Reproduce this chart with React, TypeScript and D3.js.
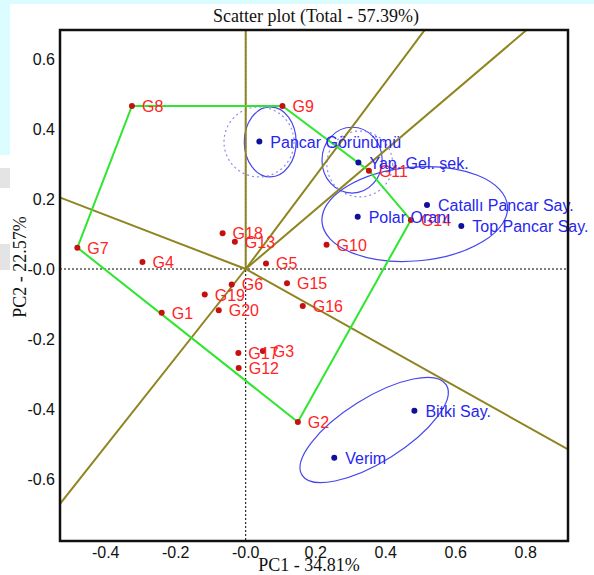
import React from 'react';
import * as d3 from 'd3';

// genotype scores (PC1, PC2)
const genoNames = ['G1', 'G2', 'G3', 'G4', 'G5', 'G6', 'G7', 'G8', 'G9', 'G10',
  'G11', 'G12', 'G13', 'G14', 'G15', 'G16', 'G17', 'G18', 'G19', 'G20'];
const genoPC1 = [-0.24, 0.149, 0.049, -0.295, 0.058, -0.04, -0.481, -0.325, 0.105, 0.231,
  0.352, -0.02, -0.031, 0.472, 0.118, 0.163, -0.021, -0.066, -0.117, -0.077];
const genoPC2 = [-0.125, -0.437, -0.234, 0.02, 0.016, -0.044, 0.061, 0.466, 0.466, 0.069,
  0.281, -0.283, 0.078, 0.14, -0.041, -0.106, -0.24, 0.102, -0.073, -0.118];

// trait scores
const traitNames = ['Pancar Görünümü', 'Yap. Gel. şek.', 'Polar Oranı', 'Catallı Pancar Say.',
  'Top.Pancar Say.', 'Bitki Say.', 'Verim'];
const traitPC1 = [0.039, 0.322, 0.32, 0.518, 0.616, 0.482, 0.253];
const traitPC2 = [0.364, 0.304, 0.149, 0.183, 0.123, -0.405, -0.539];

// polygon vertices (which-won-where), in order
const hull = ['G8', 'G9', 'G11', 'G14', 'G2', 'G7'];

// trait group ellipses: center, radii, rotation (deg)
const ellCX = [0.07, 0.038, 0.304, 0.326, 0.483, 0.367];
const ellCY = [0.363, 0.363, 0.311, 0.3, 0.157, -0.46];
const ellRX = [0.074, 0.1, 0.086, 0.094, 0.266, 0.243];
const ellRY = [0.1, 0.1, 0.094, 0.094, 0.134, 0.091];
const ellRot = [0, 0, 0, 0, -5, -32];
const ellDotted = [false, true, false, true, false, false];

const xTicks = [-0.4, -0.2, 0, 0.2, 0.4, 0.6, 0.8];
const yTicks = [-0.6, -0.4, -0.2, 0, 0.2, 0.4, 0.6];

const W = 594;
const H = 575;
const frame = { left: 60, right: 568, top: 30, bottom: 541 };

const fmt = (v: number) => (v === 0 ? '-0.0' : v.toFixed(1));

const App = () => {
  const k = 350; // px per unit, both axes
  const x0 = 245.7;
  const y0 = 269;
  const x = d3.scaleLinear()
    .domain([(frame.left - x0) / k, (frame.right - x0) / k])
    .range([frame.left, frame.right]);
  const y = d3.scaleLinear()
    .domain([(y0 - frame.bottom) / k, (y0 - frame.top) / k])
    .range([frame.bottom, frame.top]);

  const idx = (n: string) => genoNames.indexOf(n);
  const hullPts: [number, number][] = hull.map(n => [genoPC1[idx(n)], genoPC2[idx(n)]]);
  const hullPath = d3.line()(hullPts.map(p => [x(p[0]), y(p[1])]) as [number, number][]) + 'Z';

  // rays from origin perpendicular to each polygon side
  const rays = hullPts.map((a, i) => {
    const b = hullPts[(i + 1) % hullPts.length];
    const dx = b[0] - a[0];
    const dy = b[1] - a[1];
    const t = -(a[0] * dx + a[1] * dy) / (dx * dx + dy * dy);
    const fx = a[0] + t * dx;
    const fy = a[1] + t * dy;
    const len = Math.hypot(fx, fy);
    return [fx / len * 3, fy / len * 3];
  });

  return (
    <svg width={W} height={H} style={{ position: 'absolute', left: 0, top: 0, background: '#fff' }}>
      <rect x={0} y={0} width={W} height={4} fill="#dcfdff" />
      <rect x={0} y={0} width={10} height={155} fill="#dcfdff" />
      <rect x={0} y={168} width={10} height={20} fill="#e4e4e4" />
      <rect x={0} y={244} width={10} height={26} fill="#e4e4e4" />

      <defs>
        <clipPath id="plotClip">
          <rect x={frame.left} y={frame.top} width={frame.right - frame.left} height={frame.bottom - frame.top} />
        </clipPath>
      </defs>

      <text x={316} y={22} textAnchor="middle" fontFamily="'Liberation Serif', 'Times New Roman', serif" fontSize={18} fill="#111">
        Scatter plot (Total - 57.39%)
      </text>

      <g clipPath="url(#plotClip)">
        {/* zero lines */}
        <line x1={frame.left} x2={frame.right} y1={y(0)} y2={y(0)} stroke="#000" strokeWidth={1} strokeDasharray="2,2" />
        <line x1={x(0)} x2={x(0)} y1={frame.top} y2={frame.bottom} stroke="#000" strokeWidth={1} strokeDasharray="2,2" />

        {/* ellipses */}
        {ellCX.map((cx, i) => (
          <ellipse key={'e' + i}
            cx={x(cx)} cy={y(ellCY[i])}
            rx={x(ellRX[i]) - x(0)} ry={y(0) - y(ellRY[i])}
            transform={`rotate(${ellRot[i]} ${x(cx)} ${y(ellCY[i])})`}
            fill="none"
            stroke={ellDotted[i] ? '#8a8af0' : '#4646ee'}
            strokeWidth={1.2}
            strokeDasharray={ellDotted[i] ? '2,3' : undefined} />
        ))}

        {/* rays */}
        {rays.map((r, i) => (
          <line key={'r' + i} x1={x(0)} y1={y(0)} x2={x(r[0])} y2={y(r[1])} stroke="#8f8420" strokeWidth={2} />
        ))}

        {/* polygon */}
        <path d={hullPath} fill="none" stroke="#2ee62e" strokeWidth={2} />
      </g>

      {/* genotypes */}
      {genoNames.map((n, i) => (
        <g key={n}>
          <circle cx={x(genoPC1[i])} cy={y(genoPC2[i])} r={3} fill="#c41010" />
          <text x={x(genoPC1[i]) + 10} y={y(genoPC2[i]) + 6} fontFamily="Arial, 'Liberation Sans', sans-serif" fontSize={16} fill="#ff2424">{n}</text>
        </g>
      ))}

      {/* traits */}
      {traitNames.map((n, i) => (
        <g key={n}>
          <circle cx={x(traitPC1[i])} cy={y(traitPC2[i])} r={3} fill="#10109a" />
          <text x={x(traitPC1[i]) + 11} y={y(traitPC2[i]) + 6} fontFamily="Arial, 'Liberation Sans', sans-serif" fontSize={16} fill="#2626ee">{n}</text>
        </g>
      ))}

      {/* frame */}
      <rect x={frame.left} y={frame.top} width={frame.right - frame.left} height={frame.bottom - frame.top} fill="none" stroke="#111" strokeWidth={2.5} />

      {/* tick labels */}
      {xTicks.map(t => (
        <text key={'x' + t} x={x(t)} y={558} textAnchor="middle" fontFamily="Arial, 'Liberation Sans', sans-serif" fontSize={16} fill="#111">{fmt(t)}</text>
      ))}
      {yTicks.map(t => (
        <text key={'y' + t} x={55} y={y(t) + 6} textAnchor="end" fontFamily="Arial, 'Liberation Sans', sans-serif" fontSize={16} fill="#111">{fmt(t)}</text>
      ))}

      <text x={309} y={571} textAnchor="middle" fontFamily="'Liberation Serif', 'Times New Roman', serif" fontSize={18} fill="#111">PC1 - 34.81%</text>
      <text transform={`translate(26, 267) rotate(-90)`} textAnchor="middle" fontFamily="'Liberation Serif', 'Times New Roman', serif" fontSize={18} fill="#111">PC2 - 22.57%</text>
    </svg>
  );
};

export default App;
